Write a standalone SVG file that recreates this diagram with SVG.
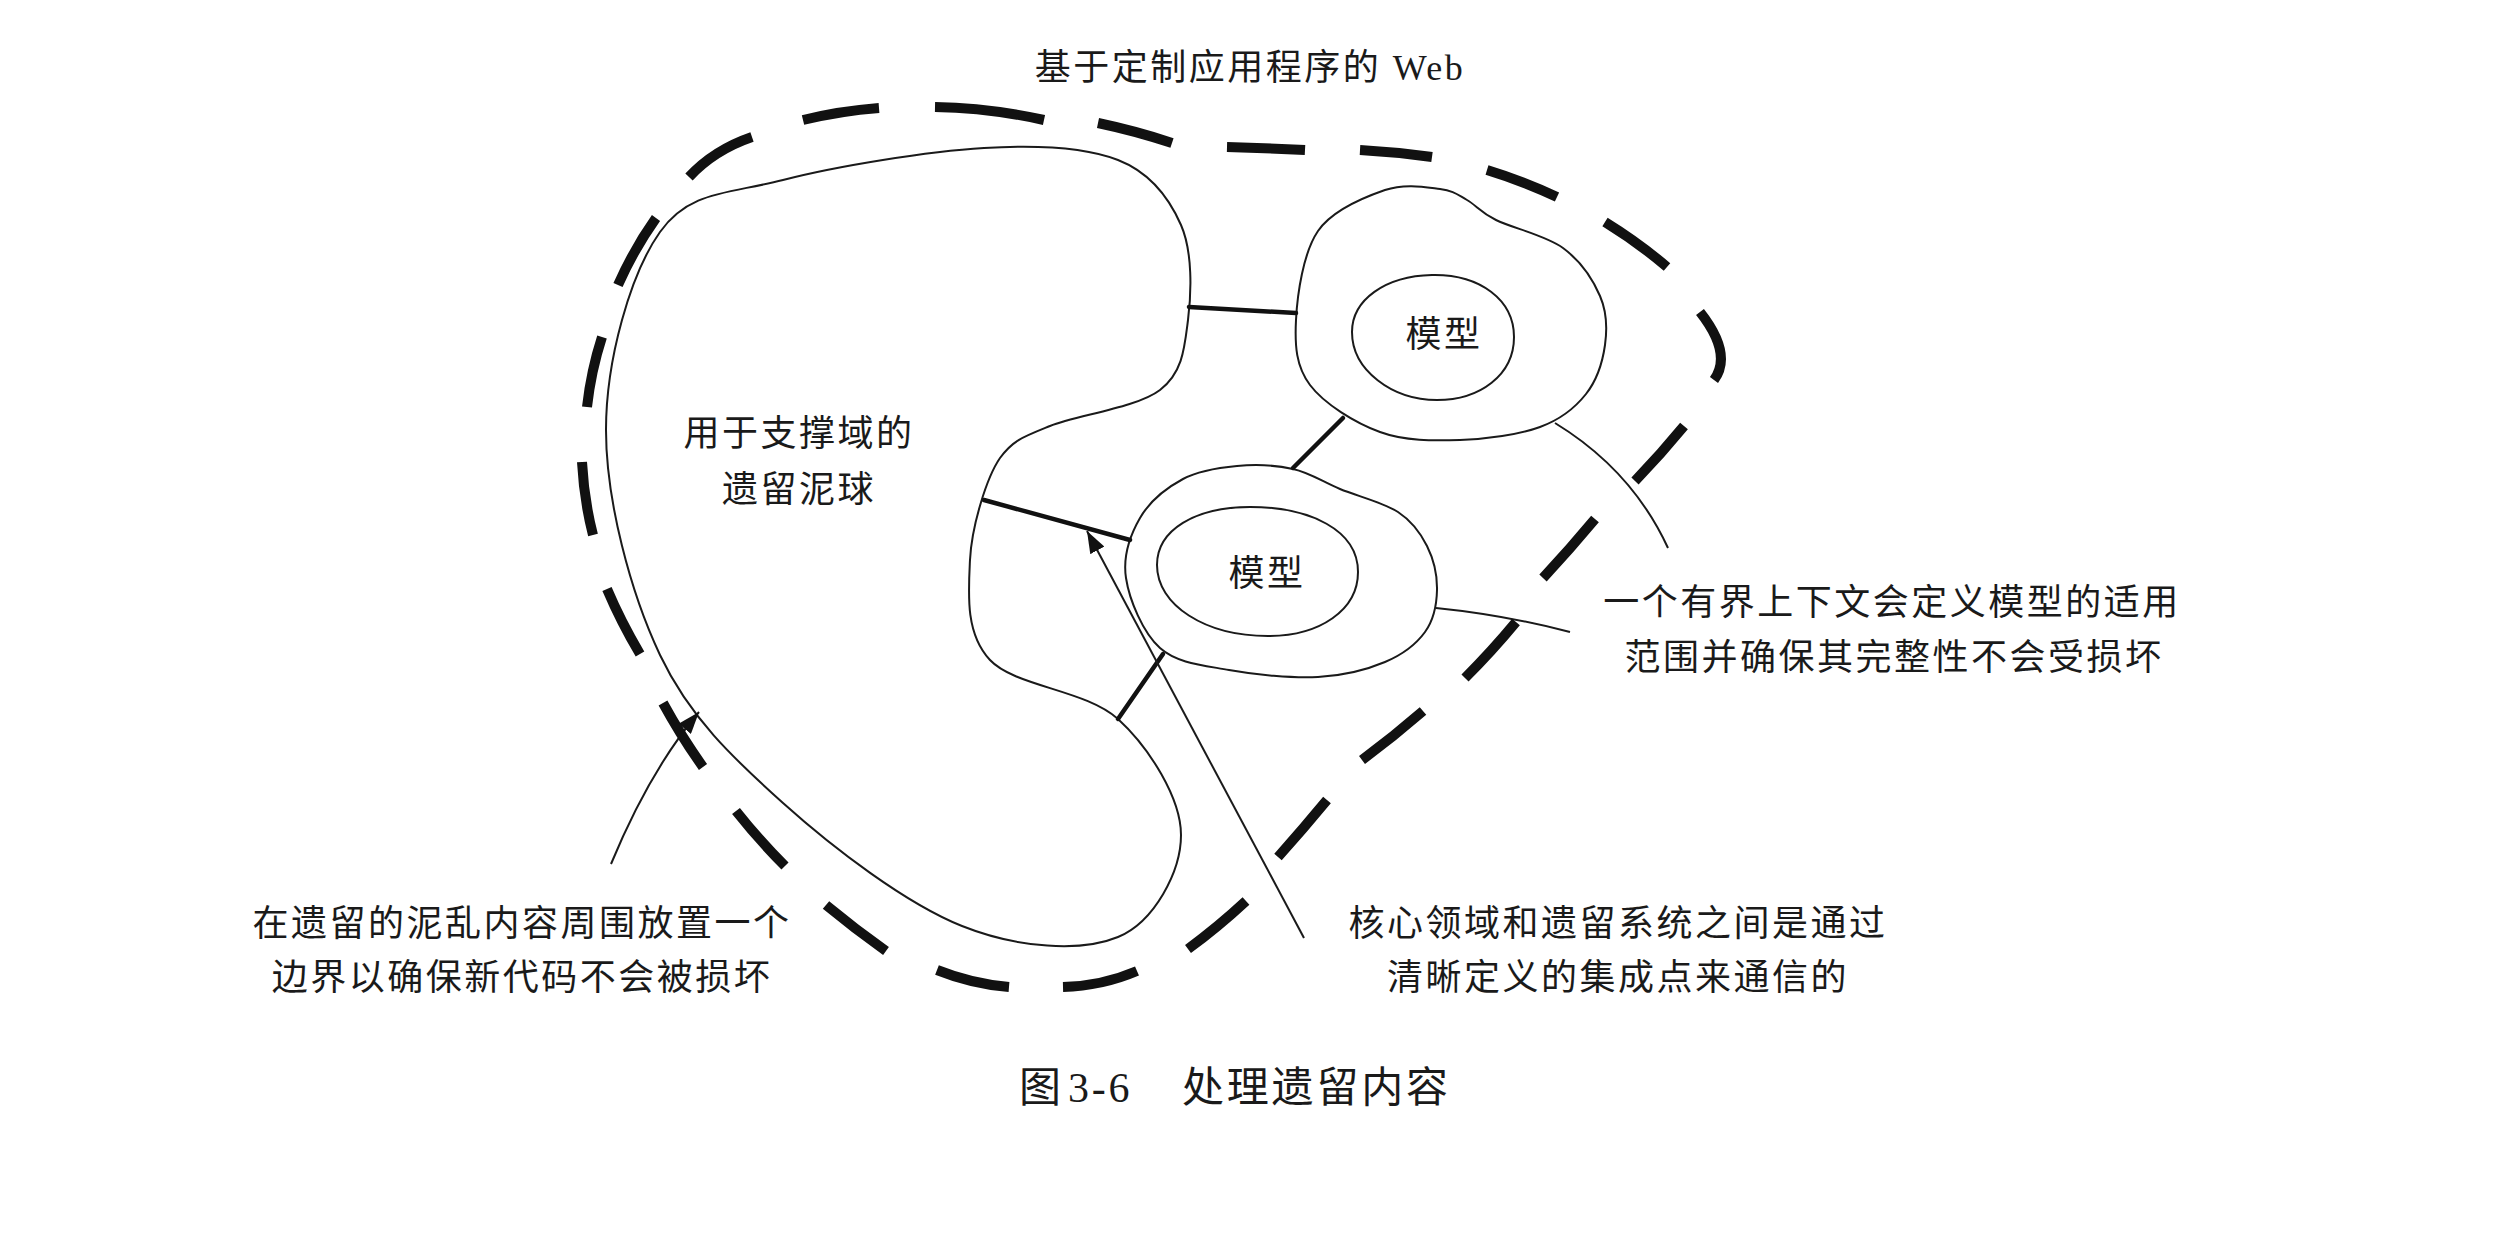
<svg xmlns="http://www.w3.org/2000/svg" width="2498" height="1234" viewBox="0 0 2498 1234">
<defs>
<style>
.bg{fill:#ffffff}
.outline{fill:none;stroke:#1a1a1a;stroke-width:2}
.conn{fill:none;stroke:#111;stroke-width:4.5;stroke-linecap:round}
.lead{fill:none;stroke:#1a1a1a;stroke-width:2}
.dash{fill:none;stroke:#111;stroke-width:10;stroke-linecap:butt}
.t{font-family:"Liberation Serif","Noto Sans CJK SC",serif;font-size:36px;letter-spacing:2.5px;fill:#1a1a1a;text-anchor:middle}
.cap{font-family:"Liberation Serif","Noto Sans CJK SC",serif;font-size:42px;letter-spacing:2.8px;fill:#1a1a1a}
</style>
<marker id="arrow" viewBox="0 0 22 16" refX="22" refY="8" markerWidth="22" markerHeight="16" markerUnits="userSpaceOnUse" orient="auto">
<path d="M0,0 L22,8 L0,16 z" fill="#111"/>
</marker>
</defs>
<rect class="bg" x="0" y="0" width="2498" height="1234"/>

<text id="title" class="t" x="1250" y="80">基于定制应用程序的 Web</text>

<g id="legacy-blob">
<path class="outline" d="M606,430 C606,359.5 630.5,273.7 660,232 C689.5,190.3 729,194 783,180 C837,166 928.2,151.3 984,148 C1039.8,144.7 1085.2,147.2 1118,160 C1150.8,172.8 1169.3,198.3 1181,225 C1192.7,251.7 1191.5,292.5 1188,320 C1184.5,347.5 1183,372.3 1160,390 C1137,407.7 1076.7,415.2 1050,426 C1023.3,436.8 1013.3,440 1000,458 C986.7,477.3 971.7,525.8 970,560 C968.3,594.2 965.3,633.5 990,660 C1014.7,686.5 1086.2,689.8 1118,719 C1149.8,748.2 1181,798.7 1181,835 C1181,871.3 1154.5,921.8 1118,937 C1081.5,952.2 1017.8,948.3 962,926 C906.2,903.7 833.3,848.2 783,803 C732.7,757.8 689.5,717.2 660,655 C630.5,592.8 606,500.5 606,430 Z"/>
<text class="t" x="799" y="446">用于支撑域的</text>
<text class="t" x="799" y="502">遗留泥球</text>
</g>

<g id="context-top">
<path class="outline" d="M1296,320 C1297.3,294.3 1303.2,252.7 1318,231 C1332.8,209.3 1364.7,197 1385,190 C1405.3,183 1426.3,187.3 1440,189 C1453.7,190.7 1457.7,194.8 1467,200 C1476.3,205.2 1480,212 1496,220 C1512,228 1545.7,235.3 1563,248 C1580.3,260.7 1593,279.8 1600,296 C1607,312.2 1607.3,328.7 1605,345 C1602.7,361.3 1596.8,380.3 1586,394 C1575.2,407.7 1561,419.3 1540,427 C1519,434.7 1486.7,439.2 1460,440 C1433.3,440.8 1405,441.2 1380,432 C1355,422.8 1324,403.7 1310,385 C1296,366.3 1294.7,345.7 1296,320 Z"/>
<path class="outline" d="M1352,332 C1352,300 1385,276 1432,275 C1480,274 1514,300 1514,337 C1514,375 1480,400 1437,400 C1392,400 1352,370 1352,332 Z"/>
<text class="t" x="1444" y="347">模型</text>
</g>

<g id="context-bottom">
<path class="outline" d="M1126,578 C1122.7,556.3 1130.5,534.5 1140,518 C1149.5,501.5 1166.8,487.7 1183,479 C1199.2,470.3 1218.7,467.7 1237,466 C1255.3,464.3 1275.8,465.2 1293,469 C1310.2,472.8 1322.5,481.8 1340,489 C1357.5,496.2 1383.5,502.5 1398,512 C1412.5,521.5 1420.5,533 1427,546 C1433.5,559 1437.3,575.7 1437,590 C1436.7,604.3 1433.7,620 1425,632 C1416.3,644 1402.8,654.5 1385,662 C1367.2,669.5 1344,675.7 1318,677 C1292,678.3 1255.3,674.8 1229,670 C1202.7,665.2 1177.2,663.3 1160,648 C1142.8,632.7 1129.3,599.7 1126,578 Z"/>
<path class="outline" d="M1157,565 C1157,530 1195,507 1250,507 C1310,507 1358,530 1358,572 C1358,610 1320,636 1268,636 C1205,636 1157,605 1157,565 Z"/>
<text class="t" x="1267" y="586">模型</text>
</g>

<g id="connectors">
<path class="conn" d="M1189,307 L1296,313"/>
<path class="conn" d="M1343,418 L1293,468"/>
<path class="conn" d="M984,500 L1130,540"/>
<path class="conn" d="M1118,719 L1163,654"/>
<path class="lead" d="M1304,938 L1087,531" marker-end="url(#arrow)"/>
<path class="lead" d="M611,864 Q650,770 699,712" marker-end="url(#arrow)"/>
<path class="lead" d="M1555,423 Q1632,470 1668,548"/>
<path class="lead" d="M1436,608 Q1505,615 1570,632"/>
</g>

<g id="boundary">
<path class="dash" d="M689,177 Q714,150 752,137 M803,120 Q840,111 879,108 M935,107 Q990,108 1044,120 M1098,123 Q1136,131 1172,143 M1227,147 Q1266,148 1305,150 M1360,150 Q1396,152 1432,157 M1487,170 Q1523,181 1557,197 M1605,222 Q1639,243 1667,267 M1700,312 Q1733,354 1714,380 M1684,426 Q1661,454 1635,481 M1595,519 Q1570,549 1543,578 M1516,622 Q1492,651 1465,678 M1423,711 Q1393,737 1362,760 M1327,800 Q1303,829 1278,857 M1246,901 Q1218,927 1188,949 M1137,971 Q1102,986 1063,987 M1009,987 Q972,984 937,970 M886,951 Q855,929 826,905 M785,866 Q759,840 736,811 M703,767 Q681,736 663,703 M640,654 Q621,622 607,589 M593,535 Q584,500 582,462 M587,407 Q591,371 602,337 M618,285 Q634,249 656,218"/>
</g>

<g id="note-boundary">
<text class="t" x="522" y="936">在遗留的泥乱内容周围放置一个</text>
<text class="t" x="522" y="990">边界以确保新代码不会被损坏</text>
</g>
<g id="note-integration">
<text class="t" x="1618" y="936">核心领域和遗留系统之间是通过</text>
<text class="t" x="1618" y="990">清晰定义的集成点来通信的</text>
</g>
<g id="note-context">
<text class="t" x="1892" y="615">一个有界上下文会定义模型的适用</text>
<text class="t" x="1894" y="670">范围并确保其完整性不会受损坏</text>
</g>

<text id="caption" class="cap" x="1019" y="1102">图<tspan x="1068">3-6</tspan><tspan x="1182">处理遗留内容</tspan></text>
</svg>
